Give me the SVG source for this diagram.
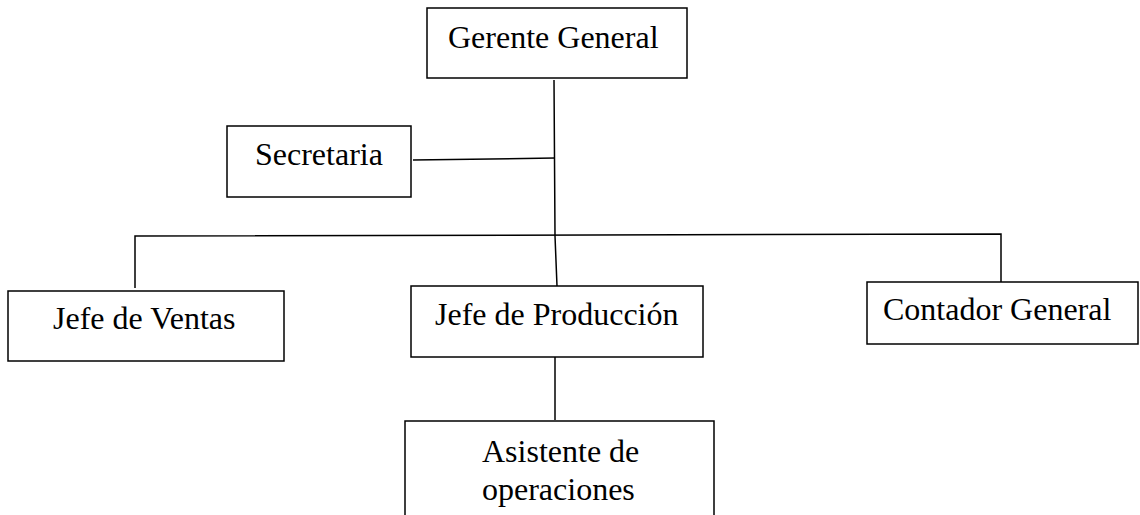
<svg xmlns="http://www.w3.org/2000/svg" width="1140" height="515" viewBox="0 0 1140 515">
<style>
.box{fill:#fff;stroke:#000;stroke-width:1.5}
.lbl{font-family:"Liberation Serif","Times New Roman",serif;font-size:32px;fill:#000}
.conn{stroke:#000;stroke-width:1.5;fill:none}
</style>
<rect width="1140" height="515" fill="#fff"/>
<g id="connectors">
<path class="conn" d="M554,80 L555,236 L557,286"/>
<path class="conn" d="M413,160 L555,158"/>
<path class="conn" d="M135,288 L135,236 L1001,234 L1001,282"/>
<path class="conn" d="M555,357 L555,420"/>
</g>
<g id="gerente">
<rect class="box" x="427" y="8" width="260" height="70"/>
<text class="lbl" x="448" y="48">Gerente General</text>
</g>
<g id="secretaria">
<rect class="box" x="227" y="126" width="184" height="71"/>
<text class="lbl" x="255" y="165">Secretaria</text>
</g>
<g id="ventas">
<rect class="box" x="8" y="291" width="276" height="70"/>
<text class="lbl" x="53" y="329">Jefe de Ventas</text>
</g>
<g id="produccion">
<rect class="box" x="411" y="286" width="292" height="71"/>
<text class="lbl" x="435" y="325">Jefe de Producción</text>
</g>
<g id="contador">
<rect class="box" x="867" y="282" width="271" height="62"/>
<text class="lbl" x="883" y="320">Contador General</text>
</g>
<g id="asistente">
<path class="box" d="M405,516 L405,421 L714,421 L714,516"/>
<text class="lbl" x="482" y="462">Asistente de</text>
<text class="lbl" x="482" y="500">operaciones</text>
</g>
</svg>
